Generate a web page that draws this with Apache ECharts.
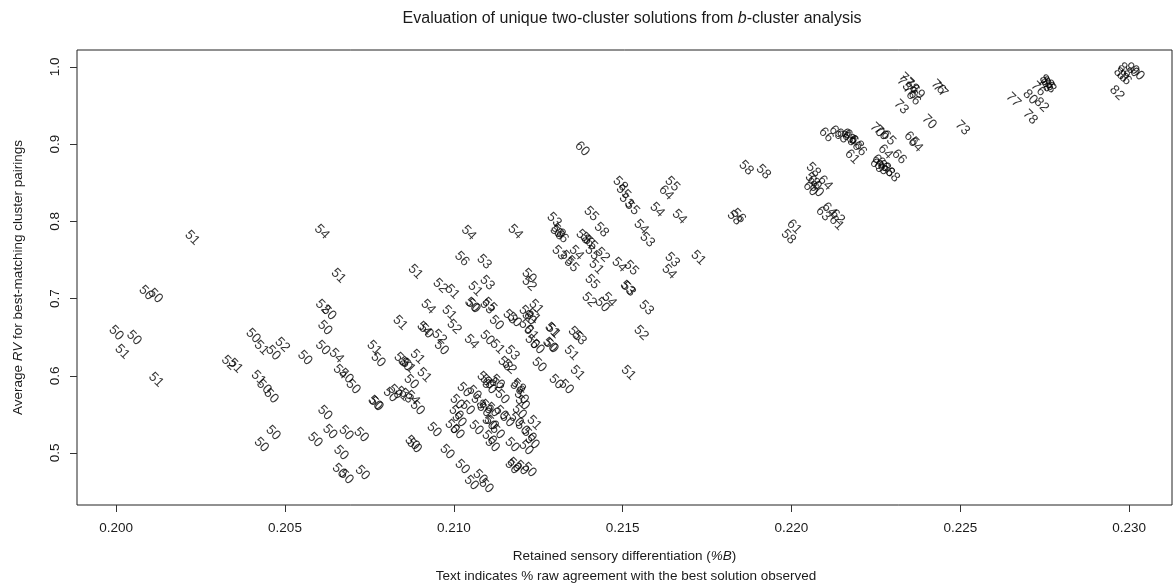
<!DOCTYPE html>
<html>
<head>
<meta charset="utf-8">
<script src="https://cdn.jsdelivr.net/npm/echarts@6/dist/echarts.min.js"></script>
<style>
  html, body { margin: 0; padding: 0; background: #ffffff; }
  #chart { width: 1173px; height: 587px; }
</style>
</head>
<body>
<div id="chart"></div>
<script>
// Retained sensory differentiation (%B) of each unique two-cluster solution
const retainedB = [
  0.20225, 0.20089, 0.20116, 0.20000, 0.20053, 0.20018, 0.20118, 0.20406, 0.20430, 0.20465,
  0.20492, 0.20333, 0.20353, 0.20421, 0.20438, 0.20459, 0.20465, 0.20430, 0.20609, 0.20658,
  0.20612, 0.20630, 0.20618, 0.20612, 0.20652, 0.20559, 0.20664, 0.20681, 0.20702, 0.20764,
  0.20776, 0.20841, 0.20770, 0.20767, 0.20618, 0.20633, 0.20589, 0.20681, 0.20726, 0.20666,
  0.20661, 0.20681, 0.20729, 0.20877, 0.20883, 0.21044, 0.21182, 0.21024, 0.21090, 0.20886,
  0.20960, 0.20995, 0.21063, 0.21099, 0.21054, 0.21057, 0.21099, 0.21105, 0.21126, 0.21167,
  0.21179, 0.20924, 0.20986, 0.21001, 0.20912, 0.20918, 0.20957, 0.20963, 0.21052, 0.21099,
  0.21129, 0.20892, 0.20844, 0.20856, 0.20865, 0.20912, 0.20874, 0.20826, 0.20847, 0.20859,
  0.20877, 0.20892, 0.20812, 0.21090, 0.21099, 0.21126, 0.21031, 0.21060, 0.21072, 0.21010,
  0.21007, 0.21016, 0.21040, 0.21090, 0.21105, 0.21066, 0.21105, 0.20942, 0.20995, 0.21010,
  0.20980, 0.21025, 0.21052, 0.21078, 0.21096, 0.21164, 0.21152, 0.21253, 0.21303, 0.21333,
  0.21366, 0.21105, 0.21129, 0.21143, 0.21188, 0.21191, 0.21200, 0.21203, 0.21194, 0.21185,
  0.21096, 0.21114, 0.21140, 0.21158, 0.21111, 0.21129, 0.21203, 0.21223, 0.21232, 0.21238,
  0.21173, 0.21214, 0.21114, 0.21173, 0.21179, 0.21200, 0.21223, 0.21407, 0.21493, 0.21502,
  0.21511, 0.21528, 0.21647, 0.21629, 0.21602, 0.21668, 0.21555, 0.21573, 0.21380, 0.21437,
  0.21297, 0.21306, 0.21309, 0.21318, 0.21383, 0.21395, 0.21404, 0.21312, 0.21336, 0.21363,
  0.21348, 0.21410, 0.21440, 0.21422, 0.21490, 0.21525, 0.21647, 0.21638, 0.21724, 0.21223,
  0.21223, 0.21410, 0.21514, 0.21517, 0.21401, 0.21440, 0.21460, 0.21570, 0.21244, 0.21214,
  0.21223, 0.21235, 0.21291, 0.21294, 0.21285, 0.21288, 0.21360, 0.21371, 0.21555, 0.21214,
  0.21229, 0.21232, 0.21247, 0.21348, 0.21173, 0.21517, 0.22103, 0.22133, 0.22148, 0.22168,
  0.22171, 0.22174, 0.22192, 0.22201, 0.22180, 0.21866, 0.21917, 0.22065, 0.22062, 0.22068,
  0.22100, 0.22056, 0.22074, 0.21831, 0.21843, 0.22008, 0.21991, 0.22112, 0.22094, 0.22136,
  0.22133, 0.22340, 0.22334, 0.22352, 0.22361, 0.22373, 0.22355, 0.22435, 0.22441, 0.22325,
  0.22408, 0.22506, 0.22254, 0.22266, 0.22287, 0.22355, 0.22367, 0.22319, 0.22278, 0.22260,
  0.22272, 0.22254, 0.22284, 0.22299, 0.22266, 0.22756, 0.22759, 0.22750, 0.22762, 0.22731,
  0.22707, 0.22740, 0.22657, 0.22707, 0.22988, 0.23009, 0.23024, 0.22976, 0.22985, 0.22964
];

// Average RV for the best-matching cluster pairings
const averageRV = [
  0.7785, 0.7073, 0.7034, 0.6554, 0.6490, 0.6308, 0.5946, 0.6516, 0.6360, 0.6295,
  0.6399, 0.6166, 0.6127, 0.5972, 0.5855, 0.5738, 0.5259, 0.5104, 0.7863, 0.7293,
  0.6891, 0.6814, 0.6619, 0.6360, 0.6257, 0.6231, 0.6049, 0.5997, 0.5855, 0.6360,
  0.6205, 0.6684, 0.5635, 0.5648, 0.5518, 0.5272, 0.5169, 0.5259, 0.5233, 0.5000,
  0.4767, 0.4689, 0.4741, 0.5130, 0.5091, 0.7850, 0.7863, 0.7513, 0.7474, 0.7345,
  0.7163, 0.7086, 0.7124, 0.7202, 0.6917, 0.6904, 0.6891, 0.6917, 0.6684, 0.6762,
  0.6723, 0.6891, 0.6814, 0.6632, 0.6606, 0.6580, 0.6503, 0.6360, 0.6438, 0.6490,
  0.6373, 0.6244, 0.6205, 0.6153, 0.6127, 0.6008, 0.5920, 0.5790, 0.5764, 0.5738,
  0.5713, 0.5583, 0.5751, 0.5959, 0.5920, 0.5881, 0.5816, 0.5777, 0.5661, 0.5661,
  0.5518, 0.5428, 0.5583, 0.5557, 0.5389, 0.5324, 0.5194, 0.5298, 0.5337, 0.5272,
  0.5013, 0.4819, 0.4612, 0.4689, 0.4573, 0.6114, 0.6153, 0.6140, 0.5920, 0.5855,
  0.6036, 0.5855, 0.5920, 0.5726, 0.5842, 0.5868, 0.5726, 0.5648, 0.5531, 0.5428,
  0.5596, 0.5557, 0.5518, 0.5428, 0.5389, 0.5272, 0.5324, 0.5233, 0.5143, 0.5389,
  0.5104, 0.5065, 0.5104, 0.4819, 0.4845, 0.4806, 0.4780, 0.8096, 0.8484, 0.8381,
  0.8264, 0.8174, 0.8484, 0.8368, 0.8148, 0.8057, 0.7928, 0.7759, 0.8938, 0.7889,
  0.8018, 0.7850, 0.7876, 0.7811, 0.7798, 0.7759, 0.7720, 0.7591, 0.7526, 0.7591,
  0.7435, 0.7591, 0.7565, 0.7409, 0.7435, 0.7396, 0.7500, 0.7345, 0.7526, 0.7293,
  0.7189, 0.7215, 0.7137, 0.7124, 0.6982, 0.6917, 0.6982, 0.6878, 0.6891, 0.6814,
  0.6749, 0.6775, 0.6593, 0.6580, 0.6399, 0.6386, 0.6542, 0.6490, 0.6554, 0.6632,
  0.6554, 0.6438, 0.6373, 0.6295, 0.6295, 0.6036, 0.9119, 0.9145, 0.9106, 0.9106,
  0.9067, 0.9093, 0.9016, 0.8938, 0.8834, 0.8692, 0.8640, 0.8666, 0.8536, 0.8497,
  0.8497, 0.8420, 0.8407, 0.8044, 0.8070, 0.7928, 0.7798, 0.8148, 0.8096, 0.8057,
  0.7979, 0.9832, 0.9780, 0.9676, 0.9598, 0.9676, 0.9754, 0.9741, 0.9702, 0.9482,
  0.9288, 0.9210, 0.9184, 0.9145, 0.9080, 0.9067, 0.8990, 0.8834, 0.8899, 0.8769,
  0.8731, 0.8718, 0.8666, 0.8601, 0.8692, 0.9806, 0.9780, 0.9767, 0.9754, 0.9715,
  0.9611, 0.9508, 0.9573, 0.9352, 0.9961, 0.9961, 0.9922, 0.9896, 0.9858, 0.9663
];

// % raw agreement with the best solution observed (drawn as the point label)
const agreement = [
  51, 50, 50, 50, 50, 51, 51, 50, 51, 50,
  52, 52, 51, 51, 50, 50, 50, 50, 54, 51,
  52, 50, 50, 50, 54, 50, 54, 50, 50, 51,
  50, 51, 50, 50, 50, 50, 50, 50, 50, 50,
  50, 50, 50, 50, 50, 54, 54, 56, 53, 51,
  52, 51, 51, 53, 50, 50, 53, 55, 50, 53,
  50, 54, 51, 52, 54, 50, 52, 50, 54, 50,
  51, 51, 58, 50, 51, 51, 50, 50, 51, 53,
  54, 50, 50, 50, 50, 52, 50, 50, 58, 50,
  50, 50, 50, 50, 50, 50, 50, 50, 50, 50,
  50, 50, 50, 50, 50, 52, 58, 50, 50, 50,
  51, 50, 50, 50, 58, 58, 50, 50, 50, 50,
  50, 50, 50, 50, 50, 50, 50, 50, 50, 51,
  50, 50, 50, 50, 50, 50, 50, 55, 58, 55,
  53, 55, 55, 64, 54, 54, 54, 53, 60, 58,
  53, 58, 58, 56, 58, 56, 55, 53, 55, 54,
  55, 55, 52, 51, 54, 55, 53, 54, 51, 50,
  52, 55, 53, 53, 52, 50, 54, 53, 51, 58,
  50, 51, 51, 51, 50, 50, 55, 53, 52, 50,
  51, 50, 50, 51, 53, 51, 66, 69, 65, 68,
  69, 66, 68, 66, 61, 58, 58, 58, 58, 60,
  64, 60, 60, 58, 56, 61, 58, 64, 63, 62,
  61, 77, 73, 76, 66, 69, 78, 76, 77, 73,
  70, 73, 70, 70, 65, 65, 64, 66, 64, 66,
  68, 69, 68, 68, 65, 88, 86, 78, 88, 76,
  80, 82, 77, 78, 88, 90, 90, 88, 86, 82
];

const xTicks = [0.200, 0.205, 0.210, 0.215, 0.220, 0.225, 0.230];
const yTicks = [0.5, 0.6, 0.7, 0.8, 0.9, 1.0];

const titleParts = ['Evaluation of unique two-cluster solutions from ', 'b', '-cluster analysis'];
const xNameParts = ['Retained sensory differentiation (', '%B', ')'];
const yNameParts = ['Average ', 'RV', ' for best-matching cluster pairings'];
const note = 'Text indicates % raw agreement with the best solution observed';

const points = retainedB.map((x, i) => [x, averageRV[i], agreement[i]]);

const FONT = '"Liberation Sans", Arial, sans-serif';
const INK = '#1a1a1a';

const richPair = size => ({
  n: { fontFamily: FONT, fontSize: size, color: INK, fontWeight: 'normal' },
  i: { fontFamily: FONT, fontSize: size, color: INK, fontWeight: 'normal', fontStyle: 'italic' }
});

const chart = echarts.init(document.getElementById('chart'), null, { renderer: 'canvas' });

chart.setOption({
  animation: false,
  backgroundColor: '#ffffff',
  textStyle: { fontFamily: FONT, color: INK },
  title: {
    text: '{n|' + titleParts[0] + '}{i|' + titleParts[1] + '}{n|' + titleParts[2] + '}',
    left: 627,
    top: 6,
    textAlign: 'center',
    textStyle: { fontWeight: 'normal', rich: richPair(16) }
  },
  grid: {
    left: 77,
    right: 1,
    top: 50,
    bottom: 82,
    show: true,
    borderColor: '#222',
    borderWidth: 1,
    backgroundColor: 'transparent'
  },
  xAxis: {
    type: 'value',
    min: 0.19884,
    max: 0.23127,
    name: '{n|' + xNameParts[0] + '}{i|' + xNameParts[1] + '}{n|' + xNameParts[2] + '}',
    nameLocation: 'middle',
    nameGap: 44,
    nameTextStyle: { rich: richPair(13.5) },
    axisLine: { show: false },
    splitLine: { show: false },
    axisTick: {
      show: true,
      inside: false,
      length: 7,
      customValues: xTicks,
      lineStyle: { color: '#333', width: 1 }
    },
    axisLabel: {
      customValues: xTicks,
      margin: 16,
      fontSize: 13.5,
      fontFamily: FONT,
      color: INK,
      formatter: v => v.toFixed(3)
    }
  },
  yAxis: {
    type: 'value',
    min: 0.4326,
    max: 1.022,
    name: '{n|' + yNameParts[0] + '}{i|' + yNameParts[1] + '}{n|' + yNameParts[2] + '}',
    nameLocation: 'middle',
    nameRotate: 90,
    nameGap: 52,
    nameTextStyle: { rich: richPair(13.5) },
    axisLine: { show: false },
    splitLine: { show: false },
    axisTick: {
      show: true,
      inside: false,
      length: 7,
      customValues: yTicks,
      lineStyle: { color: '#333', width: 1 }
    },
    axisLabel: {
      customValues: yTicks,
      rotate: 90,
      margin: 15,
      fontSize: 13.5,
      fontFamily: FONT,
      color: INK,
      formatter: v => v.toFixed(1)
    }
  },
  graphic: [{
    type: 'text',
    x: 626,
    y: 576,
    style: {
      text: note,
      align: 'center',
      verticalAlign: 'middle',
      font: '13.5px ' + FONT,
      fill: INK
    }
  }],
  series: [{
    type: 'scatter',
    data: points,
    symbolSize: 1,
    itemStyle: { color: 'rgba(0,0,0,0)' },
    silent: true,
    label: {
      show: true,
      position: 'inside',
      rotate: -45,
      formatter: p => String(p.value[2]),
      fontFamily: FONT,
      fontSize: 13.5,
      color: '#000'
    },
    emphasis: { disabled: true }
  }]
});
</script>
</body>
</html>
